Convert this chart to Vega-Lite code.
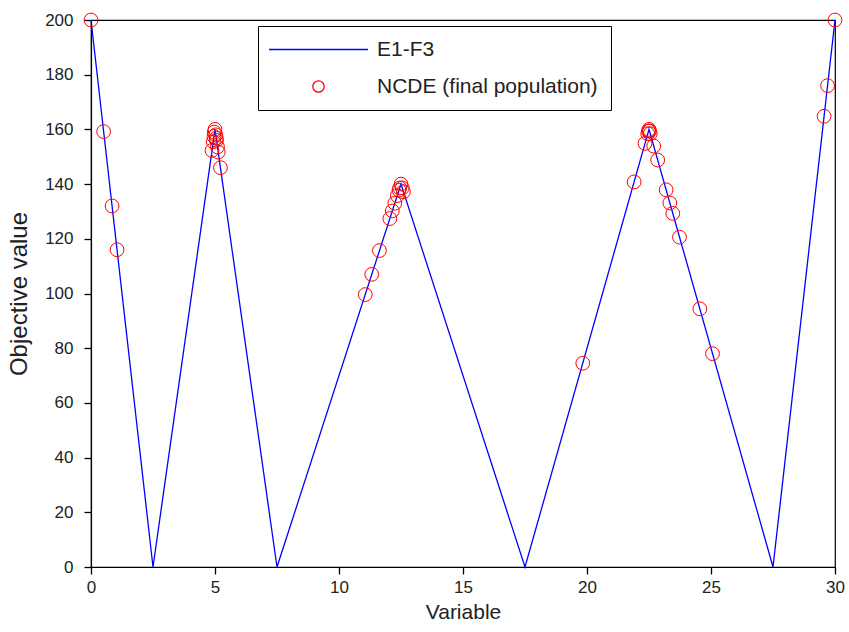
{
  "$schema": "https://vega.github.io/schema/vega-lite/v6.json",
  "width": 744,
  "height": 547,
  "autosize": {"type": "none"},
  "padding": {"left": 91, "top": 20, "right": 14, "bottom": 65},
  "background": "white",
  "config": {
    "view": {"stroke": "black", "strokeWidth": 1.2},
    "font": "Liberation Sans"
  },
  "datasets": {
    "curve": [
      {"x": 0, "y": 200}, {"x": 2.5, "y": 0}, {"x": 5, "y": 160}, {"x": 7.5, "y": 0},
      {"x": 12.5, "y": 140}, {"x": 17.5, "y": 0}, {"x": 22.5, "y": 160}, {"x": 27.5, "y": 0},
      {"x": 30, "y": 200}
    ],
    "pop": [
      {"x": 0, "y": 200}, {"x": 0.51, "y": 159.2}, {"x": 0.85, "y": 132}, {"x": 1.05, "y": 116},
      {"x": 4.97, "y": 159}, {"x": 5.0, "y": 160}, {"x": 5.03, "y": 158}, {"x": 4.93, "y": 155.5},
      {"x": 4.88, "y": 152.3}, {"x": 5.06, "y": 156}, {"x": 5.1, "y": 153.6}, {"x": 5.13, "y": 151.7},
      {"x": 5.22, "y": 146}, {"x": 4.96, "y": 157.4}, {"x": 5.05, "y": 156.8},
      {"x": 11.06, "y": 99.6}, {"x": 11.32, "y": 107}, {"x": 11.63, "y": 115.7}, {"x": 12.05, "y": 127.4},
      {"x": 12.15, "y": 130.2}, {"x": 12.25, "y": 133}, {"x": 12.35, "y": 135.8}, {"x": 12.42, "y": 137.8},
      {"x": 12.5, "y": 140}, {"x": 12.55, "y": 138.6}, {"x": 12.6, "y": 137.2}, {"x": 12.45, "y": 138.6},
      {"x": 19.83, "y": 74.5}, {"x": 21.9, "y": 140.8}, {"x": 22.34, "y": 154.9}, {"x": 22.45, "y": 158.4},
      {"x": 22.5, "y": 160}, {"x": 22.55, "y": 158.4}, {"x": 22.48, "y": 159.4}, {"x": 22.52, "y": 159.4},
      {"x": 22.69, "y": 153.9}, {"x": 22.85, "y": 148.8}, {"x": 23.19, "y": 137.9}, {"x": 23.34, "y": 133.1},
      {"x": 23.46, "y": 129.3}, {"x": 23.73, "y": 120.6}, {"x": 24.55, "y": 94.4}, {"x": 25.06, "y": 78},
      {"x": 29.56, "y": 164.8}, {"x": 29.7, "y": 176}, {"x": 30, "y": 200}
    ]
  },
  "layer": [
    {
      "data": {"name": "curve"},
      "mark": {"type": "line", "strokeWidth": 1.3},
      "encoding": {
        "x": {
          "field": "x", "type": "quantitative",
          "scale": {"domain": [0, 30], "nice": false, "zero": false},
          "axis": {"orient": "bottom", "tickCount": 6, "grid": false, "domainColor": "black", "domainWidth": 1.2, "tickSize": 7, "tickColor": "black", "tickWidth": 1.3, "labelFlush": false, "labelPadding": 5, "labelFontSize": 17, "labelColor": "#222222", "title": "Variable", "titleFontSize": 21, "titleFontWeight": "normal", "titleColor": "#222222", "titlePadding": 6}
        },
        "y": {
          "field": "y", "type": "quantitative",
          "scale": {"domain": [0, 200], "nice": false},
          "axis": {"orient": "left", "tickCount": 10, "grid": false, "domainColor": "black", "domainWidth": 1.2, "tickSize": 7, "tickColor": "black", "tickWidth": 1.3, "labelPadding": 11, "labelFontSize": 17, "labelColor": "#222222", "title": "Objective value", "titleFontSize": 24, "titleFontWeight": "normal", "titleColor": "#222222", "titlePadding": 13}
        },
        "color": {
          "datum": "E1-F3",
          "type": "nominal",
          "scale": {"domain": ["E1-F3", "NCDE (final population)"], "range": ["#0000ff", "#ff0000"]},
          "legend": {
            "title": null,
            "orient": "none",
            "legendX": 167,
            "legendY": 6,
            "strokeColor": "black",
            "fillColor": "white",
            "padding": 13,
            "rowPadding": 15,
            "labelFontSize": 21,
            "labelLimit": 400,
            "labelColor": "#222222",
            "labelFont": "Liberation Sans",
            "symbolOffset": 37,
            "labelOffset": 48,
            "encode": {
              "symbols": {
                "update": {
                  "shape": {"signal": "datum.label === 'E1-F3' ? 'M-7,0H7' : 'circle'"},
                  "size": {"signal": "datum.label === 'E1-F3' ? 200 : 130"},
                  "fill": {"value": "transparent"},
                  "strokeWidth": {"value": 1.3},
                  "opacity": {"value": 1}
                }
              }
            }
          }
        }
      }
    },
    {
      "data": {"name": "pop"},
      "mark": {"type": "point", "shape": "circle", "filled": false, "size": 190, "strokeWidth": 1, "opacity": 1},
      "encoding": {
        "x": {"field": "x", "type": "quantitative"},
        "y": {"field": "y", "type": "quantitative"},
        "color": {"datum": "NCDE (final population)", "type": "nominal"}
      }
    }
  ]
}
